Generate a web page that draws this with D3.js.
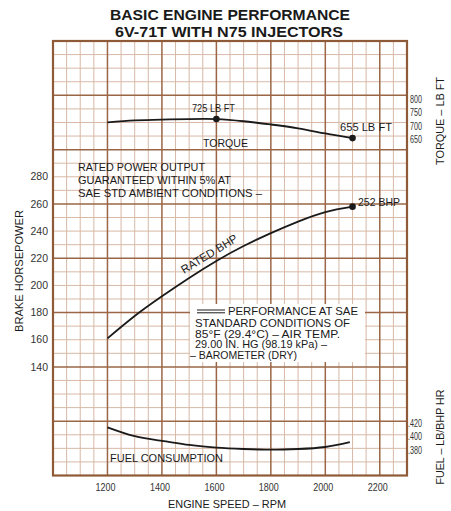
<!DOCTYPE html>
<html>
<head>
<meta charset="utf-8">
<script src="https://cdn.jsdelivr.net/npm/d3@7"></script>
<style>
  html, body { margin: 0; padding: 0; background: #fff; }
  svg { display: block; font-family: "Liberation Sans", Arial, sans-serif; }
</style>
</head>
<body>
<svg id="chart" width="451" height="511"></svg>
<script>
// engine speed points
var rpm = [1200, 1300, 1400, 1500, 1600, 1700, 1800, 1900, 2000, 2100];
var torque = [713, 720, 723, 725, 725, 717, 705, 691, 672, 655];
var bhp = [161, 177.5, 192, 205.5, 218, 229, 238.5, 247, 254, 258];
var fuelRpm = [1200, 1300, 1400, 1500, 1600, 1700, 1800, 1900, 2000, 2090];
var fuel = [0.411, 0.398, 0.391, 0.385, 0.381, 0.379, 0.378, 0.379, 0.382, 0.389];

var rpmTicks = [1200, 1400, 1600, 1800, 2000, 2200];
var hpTicks = [140, 160, 180, 200, 220, 240, 260, 280];
var torqueTicks = [800, 750, 700, 650];
var fuelTicks = [0.42, 0.40, 0.38];

var svg = d3.select('#chart');
var pLeft = 53, pRight = 407, pTop = 41, pBottom = 475.5;

var x = d3.scaleLinear().domain([1000, 2300]).range([pLeft, pRight]);
var yHp = d3.scaleLinear().domain([60, 380]).range([pBottom, pTop]);
// secondary scales sit on the same paper grid
var yTq = d3.scaleLinear().domain([650, 800]).range([yHp(307.5), yHp(337.5)]);
var yFuel = d3.scaleLinear().domain([0.38, 0.42]).range([yHp(80), yHp(100)]);

var ink = '#1a1a1a';

// paper grid
var grid = svg.append('g');
grid.selectAll('line.vminor')
  .data(d3.range(1050, 2300, 50).filter(function(d) { return d % 200 != 0; }))
  .enter().append('line')
  .attr('x1', function(d) { return x(d); }).attr('x2', function(d) { return x(d); })
  .attr('y1', pTop).attr('y2', pBottom)
  .attr('stroke', '#d8b9a6').attr('stroke-width', 1);
grid.selectAll('line.hminor')
  .data(d3.range(70, 380, 10).filter(function(d) { return (d - 60) % 40 != 0; }))
  .enter().append('line')
  .attr('y1', function(d) { return yHp(d); }).attr('y2', function(d) { return yHp(d); })
  .attr('x1', pLeft).attr('x2', pRight)
  .attr('stroke', '#d8b9a6').attr('stroke-width', 1);
grid.selectAll('line.vmajor')
  .data(d3.range(1200, 2300, 200))
  .enter().append('line')
  .attr('x1', function(d) { return x(d); }).attr('x2', function(d) { return x(d); })
  .attr('y1', pTop).attr('y2', pBottom)
  .attr('stroke', '#9a6646').attr('stroke-width', 1.5);
grid.selectAll('line.hmajor')
  .data(d3.range(100, 380, 40))
  .enter().append('line')
  .attr('y1', function(d) { return yHp(d); }).attr('y2', function(d) { return yHp(d); })
  .attr('x1', pLeft).attr('x2', pRight)
  .attr('stroke', '#9a6646').attr('stroke-width', 1.5);

// white note box covering the grid
svg.append('rect')
  .attr('x', 190).attr('y', 304).attr('width', 175).attr('height', 58)
  .attr('fill', '#fff');

svg.append('rect')
  .attr('x', pLeft).attr('y', pTop).attr('width', pRight - pLeft).attr('height', pBottom - pTop)
  .attr('fill', 'none').attr('stroke', '#8f5a38').attr('stroke-width', 2.2);

// curves
var lineTq = d3.line().curve(d3.curveNatural)
  .x(function(d, i) { return x(rpm[i]); })
  .y(function(d) { return yTq(d); });
var lineHp = d3.line().curve(d3.curveNatural)
  .x(function(d, i) { return x(rpm[i]); })
  .y(function(d) { return yHp(d); });
var lineFuel = d3.line().curve(d3.curveNatural)
  .x(function(d, i) { return x(fuelRpm[i]); })
  .y(function(d) { return yFuel(d); });

svg.append('path').attr('d', lineTq(torque)).attr('fill', 'none').attr('stroke', ink).attr('stroke-width', 1.8);
svg.append('path').attr('d', lineHp(bhp)).attr('fill', 'none').attr('stroke', ink).attr('stroke-width', 1.8);
svg.append('path').attr('d', lineFuel(fuel)).attr('fill', 'none').attr('stroke', ink).attr('stroke-width', 1.8);

svg.append('circle').attr('cx', x(1600)).attr('cy', yTq(725)).attr('r', 3.3).attr('fill', ink);
svg.append('circle').attr('cx', x(2100)).attr('cy', yTq(655)).attr('r', 3.3).attr('fill', ink);
svg.append('circle').attr('cx', x(2100)).attr('cy', yHp(258)).attr('r', 3.3).attr('fill', ink);

// helper for fitted text
function label(txt, x0, y0, w, size, opts) {
  opts = opts || {};
  var t = svg.append('text')
    .attr('x', x0).attr('y', y0)
    .attr('font-size', size)
    .attr('fill', opts.fill || ink)
    .attr('font-weight', opts.bold ? 'bold' : 'normal')
    .text(txt);
  if (w) t.attr('textLength', w).attr('lengthAdjust', 'spacingAndGlyphs');
  if (opts.rotate != null) t.attr('transform', 'rotate(' + opts.rotate + ',' + x0 + ',' + y0 + ')');
  if (opts.anchor) t.attr('text-anchor', opts.anchor);
  return t;
}

// title
label('BASIC ENGINE PERFORMANCE', 110, 20, 240, 15.5, { bold: true });
label('6V-71T WITH N75 INJECTORS', 115, 37, 228, 15.5, { bold: true });

// annotations
label('725 LB FT', 192, 112, 43, 11.5);
label('TORQUE', 203, 147, 45, 11.5);
label('655 LB FT', 340, 131, 52, 11.5);
label('RATED POWER OUTPUT', 78, 171, 127, 11.5);
label('GUARANTEED WITHIN 5% AT', 78, 184, 153, 11.5);
label('SAE STD AMBIENT CONDITIONS \u2013', 78, 197, 184, 11.5);
label('252 BHP', 358, 206, 42, 11.5);
label('RATED BHP', 184, 274, 64, 11.5, { rotate: -31.5 });
label('PERFORMANCE AT SAE', 228, 315, 130, 11.5);
label('STANDARD CONDITIONS OF', 195, 327, 155, 11.5);
label('85\u00b0F (29.4\u00b0C) \u2013 AIR TEMP.', 195, 337.5, 145, 11.5);
label('29.00 IN. HG (98.19 kPa) \u2013', 195, 348, 132, 11.5);
label('\u2013 BAROMETER (DRY)', 190, 359, 107, 11.5);
svg.append('line').attr('x1', 197).attr('x2', 225).attr('y1', 310).attr('y2', 310).attr('stroke', ink).attr('stroke-width', 1);
svg.append('line').attr('x1', 197).attr('x2', 225).attr('y1', 312.8).attr('y2', 312.8).attr('stroke', ink).attr('stroke-width', 1);
label('FUEL CONSUMPTION', 110, 462, 113, 11.5);

// axes tick labels
var tickCol = '#333';
svg.append('g').selectAll('text')
  .data(rpmTicks).enter().append('text')
  .attr('x', function(d) { return x(d) - 2; }).attr('y', 491)
  .attr('text-anchor', 'middle').attr('font-size', 10.5).attr('fill', tickCol)
  .attr('textLength', 20).attr('lengthAdjust', 'spacingAndGlyphs')
  .text(function(d) { return d; });
svg.append('g').selectAll('text')
  .data(hpTicks).enter().append('text')
  .attr('x', 48).attr('y', function(d) { return yHp(d); }).attr('dy', '0.35em')
  .attr('text-anchor', 'end').attr('font-size', 10.5).attr('fill', tickCol)
  .text(function(d) { return d; });
svg.append('g').selectAll('text')
  .data(torqueTicks).enter().append('text')
  .attr('x', 410).attr('y', function(d) { return yTq(d); }).attr('dy', '0.35em')
  .attr('font-size', 11).attr('fill', tickCol)
  .attr('textLength', 12).attr('lengthAdjust', 'spacingAndGlyphs')
  .text(function(d) { return d; });
svg.append('g').selectAll('text')
  .data(fuelTicks).enter().append('text')
  .attr('x', 408).attr('y', function(d) { return yFuel(d) + 1.5; }).attr('dy', '0.35em')
  .attr('font-size', 11).attr('fill', tickCol)
  .attr('textLength', 14).attr('lengthAdjust', 'spacingAndGlyphs')
  .text(function(d) { return d3.format('.3f')(d).replace(/^0/, ''); });

// axis titles
label('ENGINE SPEED \u2013 RPM', 227, 508, 118, 11, { anchor: 'middle' });
label('BRAKE HORSEPOWER', 23, 271, 122, 11.5, { anchor: 'middle', rotate: -90 });
label('TORQUE \u2013 LB FT', 444, 121, 88, 11.5, { anchor: 'middle', rotate: -90 });
label('FUEL \u2013 LB/BHP HR', 444, 437, 95, 11.5, { anchor: 'middle', rotate: -90 });
</script>
</body>
</html>
